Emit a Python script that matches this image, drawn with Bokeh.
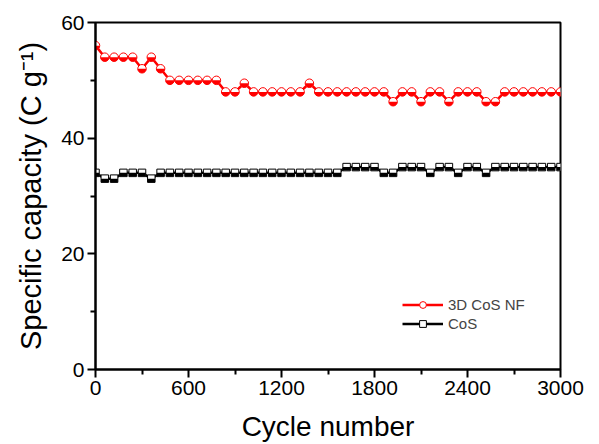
import math
from bokeh.plotting import figure
from bokeh.models import (ColumnDataSource, Range1d, FixedTicker, Legend, LegendItem)
from bokeh.embed import file_html
from bokeh.resources import INLINE

cycles = [0, 60, 120, 180, 240, 300, 360, 420, 480, 540,
          600, 660, 720, 780, 840, 900, 960, 1020, 1080, 1140,
          1200, 1260, 1320, 1380, 1440, 1500, 1560, 1620, 1680, 1740,
          1800, 1860, 1920, 1980, 2040, 2100, 2160, 2220, 2280, 2340,
          2400, 2460, 2520, 2580, 2640, 2700, 2760, 2820, 2880, 2940, 3000]

cos_nf = [56, 54, 54, 54, 54, 52, 54, 52, 50, 50,
          50, 50, 50, 50, 48, 48, 49.5, 48, 48, 48,
          48, 48, 48, 49.5, 48, 48, 48, 48, 48, 48,
          48, 48, 46.3, 48, 48, 46.3, 48, 48, 46.3, 48,
          48, 48, 46.3, 46.3, 48, 48, 48, 48, 48, 48, 48]

cos = [34, 33, 33, 34, 34, 34, 33, 34, 34, 34,
       34, 34, 34, 34, 34, 34, 34, 34, 34, 34,
       34, 34, 34, 34, 34, 34, 34, 35, 35, 35,
       35, 34, 34, 35, 35, 35, 34, 35, 35, 34,
       35, 35, 34, 35, 35, 35, 35, 35, 35, 35, 35]

x_ticks = [0, 600, 1200, 1800, 2400, 3000]
x_minor = [300, 900, 1500, 2100, 2700]
y_ticks = [0, 20, 40, 60]
y_minor = [10, 30, 50]

FONT = "Liberation Sans"
FW, FH = 465, 347

p = figure(frame_width=FW, frame_height=FH, output_backend="svg", toolbar_location=None,
           x_range=Range1d(0, 3000), y_range=Range1d(0, 60),
           min_border_left=95, min_border_right=30, min_border_top=22, min_border_bottom=0)
p.grid.visible = False
p.outline_line_color = "black"
p.outline_line_width = 2
p.background_fill_color = "white"
p.border_fill_color = "white"

for ax in (p.xaxis[0], p.yaxis[0]):
    ax.axis_line_width = 2
    ax.major_tick_line_width = 2
    ax.minor_tick_line_width = 2
    ax.major_tick_out = 8
    ax.major_tick_in = 0
    ax.minor_tick_out = 5
    ax.minor_tick_in = 0
    ax.major_label_text_font = FONT
    ax.major_label_text_font_size = "21px"
    ax.major_label_text_color = "black"
    ax.axis_label_text_font = FONT
    ax.axis_label_text_font_size = "28px"
    ax.axis_label_text_font_style = "normal"
    ax.axis_label_text_color = "black"

p.xaxis.ticker = FixedTicker(ticks=x_ticks, minor_ticks=x_minor)
p.yaxis.ticker = FixedTicker(ticks=y_ticks, minor_ticks=y_minor)
p.xaxis.axis_label = "Cycle number"
p.yaxis.axis_label = "Specific capacity (C g\u207b\u00b9)"
p.yaxis.axis_label_text_font_size = "29px"
p.xaxis.major_label_standoff = 3
p.yaxis.major_label_standoff = 3
p.xaxis.axis_label_standoff = 13
p.yaxis.axis_label_standoff = 11

# half-fill offset for squares (screen px -> data units)
dy = 1.75 * 60.0 / FH
src_r = ColumnDataSource(dict(x=cycles, y=cos_nf))
src_b = ColumnDataSource(dict(x=cycles, y=cos, yb=[v - dy for v in cos]))

lb = p.line("x", "y", source=src_b, line_color="black", line_width=2.5)
sb = p.scatter("x", "y", source=src_b, marker="square", size=7.5,
               fill_color="white", line_color="black", line_width=1)
p.rect("x", "yb", source=src_b, width=7.5, height=3.5, width_units="screen",
       height_units="screen", fill_color="black", line_color=None)

lr = p.line("x", "y", source=src_r, line_color="red", line_width=2.5)
sr = p.scatter("x", "y", source=src_r, marker="circle", size=8.5,
               fill_color="white", line_color="red", line_width=1)
p.wedge("x", "y", source=src_r, radius=4.25, radius_units="screen",
        start_angle=math.pi, end_angle=2 * math.pi, fill_color="red", line_color=None)

legend = Legend(items=[LegendItem(label="3D CoS NF", renderers=[lr, sr]),
                       LegendItem(label="CoS", renderers=[lb, sb])],
                location=(307, 37), background_fill_alpha=0, border_line_color=None,
                label_text_font=FONT, label_text_font_size="15px",
                glyph_width=41, glyph_height=17, label_height=17,
                spacing=2, padding=0, margin=0, label_standoff=5)
p.add_layout(legend, "center")

open("out.html", "w").write(file_html(p, INLINE))
